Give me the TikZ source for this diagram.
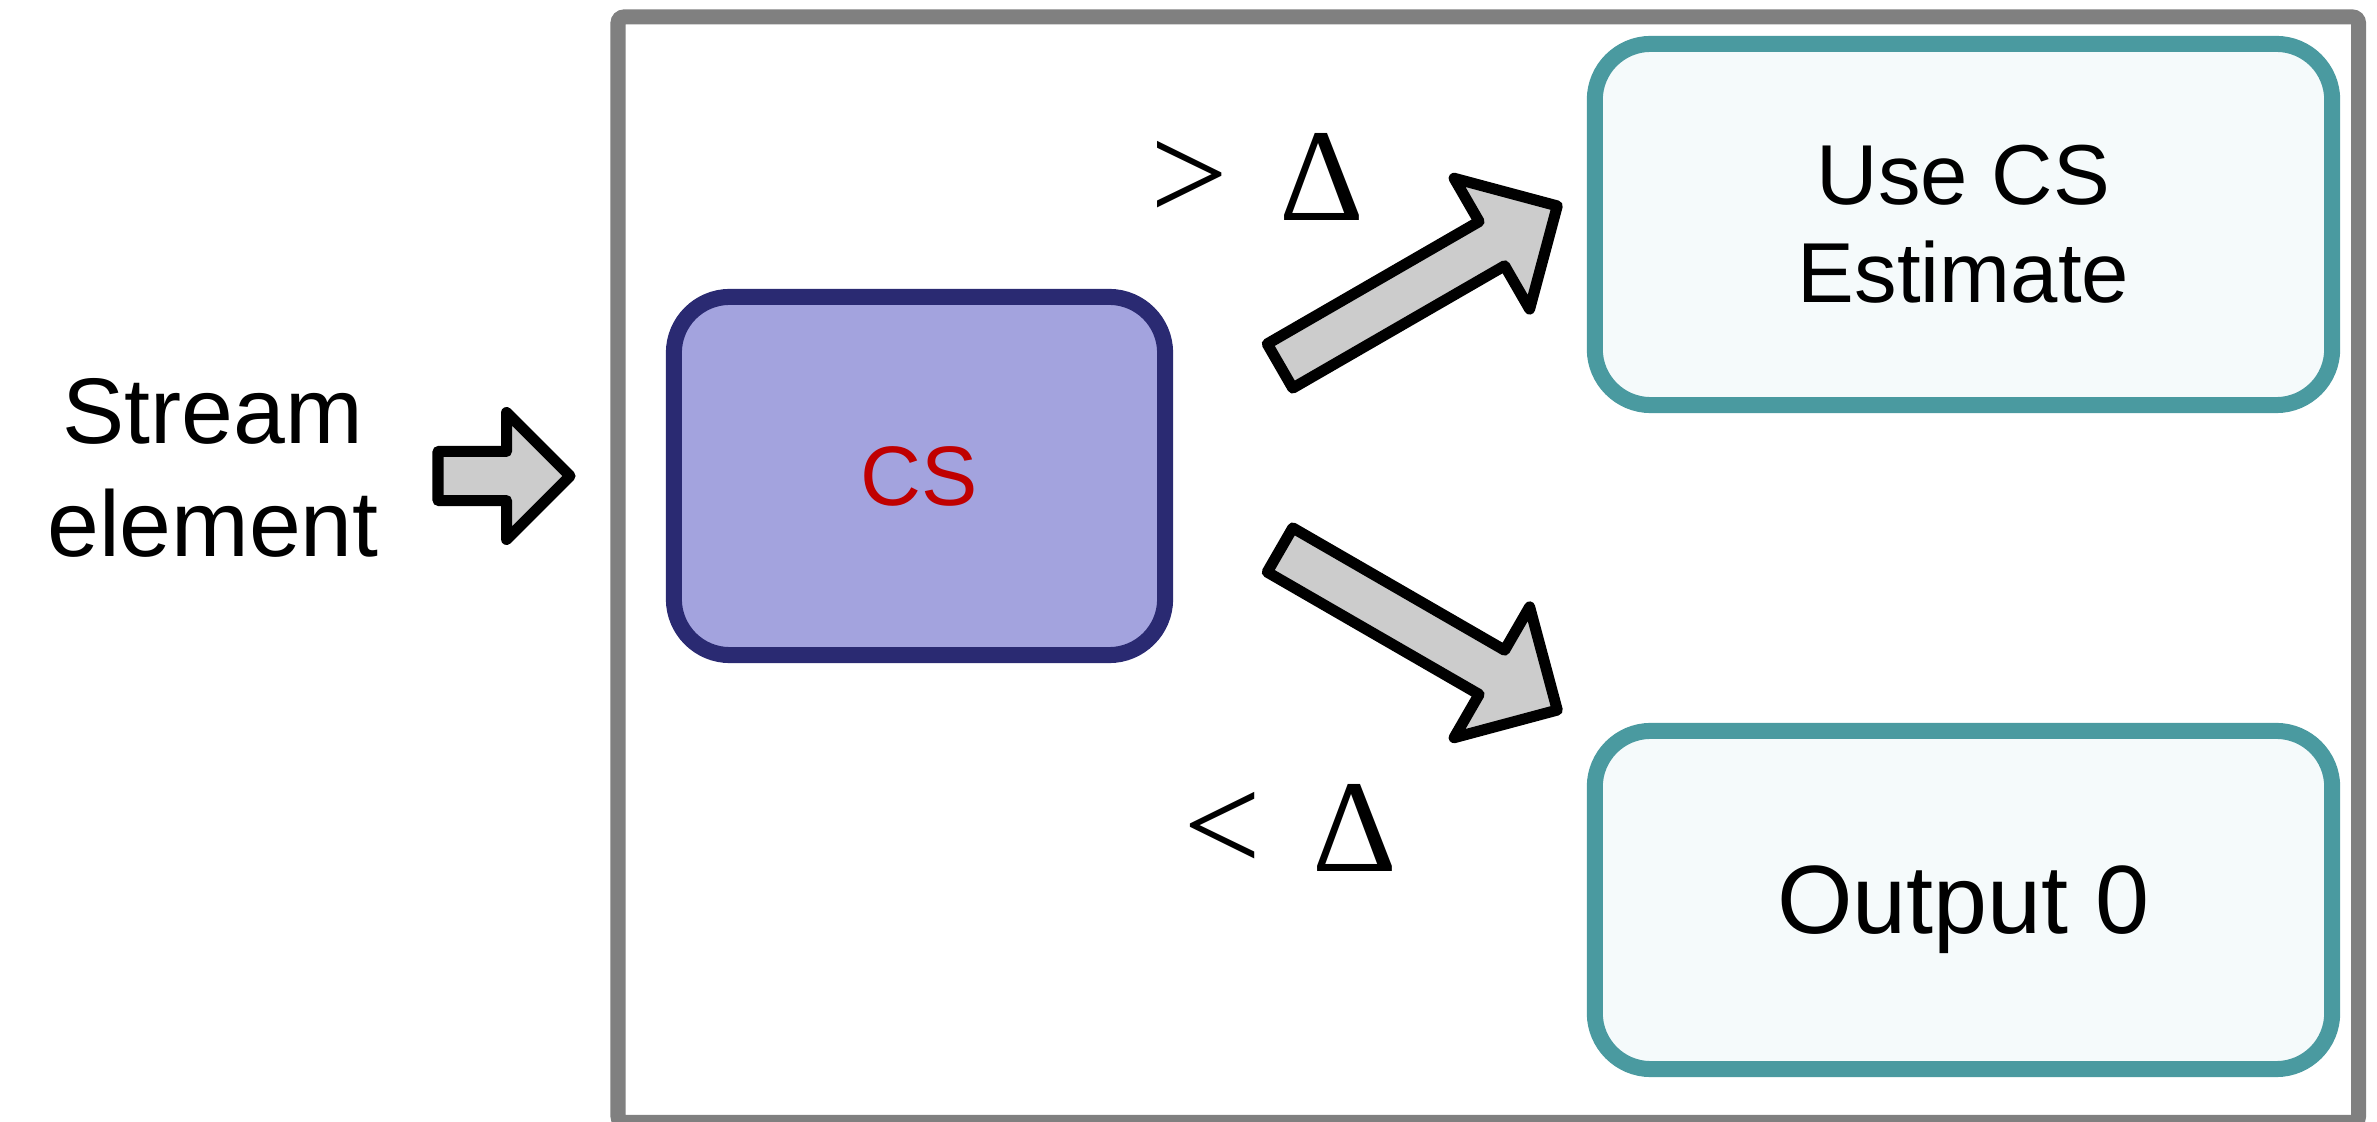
\documentclass[tikz,border=0pt]{standalone}
\usepackage{fontspec}
\setmainfont{Liberation Sans}
\newfontfamily\deltafont{Liberation Serif}
\usepackage{xcolor}
\usepackage{tikz}
\usetikzlibrary{shapes.arrows, positioning}
\definecolor{framegray}{HTML}{808080}
\definecolor{csnavy}{HTML}{2A2A72}
\definecolor{csfill}{HTML}{A3A3DE}
\definecolor{csred}{HTML}{C00000}
\definecolor{outteal}{HTML}{4A9AA0}
\definecolor{outfill}{HTML}{F5FAFB}
\tikzstyle{blockarrow} = [single arrow, draw=black, fill=black!20, line width=0.11cm, line join=round, outer sep=0pt, single arrow tip angle=90]
\tikzstyle{outbox} = [draw=outteal, fill=outfill, line width=0.16cm, rounded corners=0.56cm, minimum width=7.37cm, align=center, font=\fontsize{24.2}{27.9}\selectfont]
\newcommand{\bigdelta}{\kern14.5pt{\fontsize{37.5}{40}\selectfont Δ}}

\begin{document}
\begin{tikzpicture}[
        x=0.01cm, y=-0.01cm,
        sketch/.style={draw=csnavy, fill=csfill, line width=0.16cm, rounded corners=0.56cm},
        cmp/.style={inner sep=0pt, anchor=base west, font=\deltafont\fontsize{39.3}{40}\selectfont}
    ]
        \useasboundingbox (0,0) rectangle (2377,1122);

        % Outer frame around the sketch and its outputs
        \draw[framegray, line width=0.15cm, rounded corners=0.06cm] (618,17) rectangle (2358.5,1122.5);

        % Count sketch and the two outcomes
        \node (cs) [sketch, minimum width=4.91cm, minimum height=3.58cm, text=csred, font=\fontsize{24}{27}\selectfont] at (919.5,476) {CS};
        \node (use_cs) [outbox, minimum height=3.61cm] at (1963.5,224.5) {Use CS\\Estimate};
        \node (zero) [outbox, minimum height=3.38cm, text depth=0pt, font=\fontsize{27.6}{30}\selectfont] at (1963.5,900) {Output 0};

        % Input label
        \node (stream) [align=center, font=\fontsize{26.5}{31.9}\selectfont] at (213,468) {Stream\\element};

        % Block arrows
        \node (arr_in) [blockarrow, anchor=tail, inner sep=0.19cm, single arrow head extend=0.39cm, minimum height=1.32cm] at (438,476) {};
        \node (arr_up) [blockarrow, anchor=tail, rotate=30, inner sep=0.2cm, single arrow head extend=0.5cm, minimum height=3.2cm] at (1280,366) {};
        \node (arr_down) [blockarrow, anchor=tail, rotate=-30, inner sep=0.2cm, single arrow head extend=0.5cm, minimum height=3.2cm] at (1280,550) {};

        % Threshold labels
        \node (gt_label) [cmp] at (1150,221) {>\bigdelta};
        \node (lt_label) [cmp] at (1183,872) {<\bigdelta};

    \end{tikzpicture}
\end{document}
